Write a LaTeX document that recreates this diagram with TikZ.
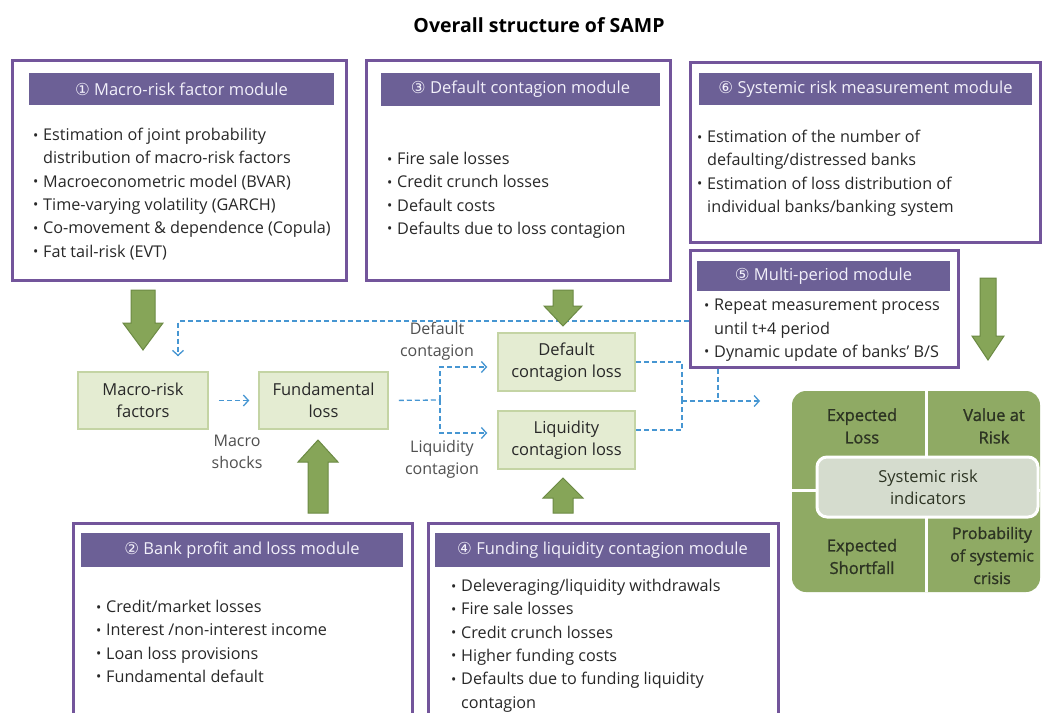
\documentclass[tikz,border=0pt]{standalone}
\usepackage{fontspec}
\setmainfont{Open Sans}
\newfontfamily\circfont{DejaVu Sans}
\newfontfamily\semifont[FakeBold=1.2]{Open Sans}
\usetikzlibrary{arrows.meta,calc}

\definecolor{modborder}{RGB}{115,85,155}
\definecolor{headfill}{RGB}{108,96,150}
\definecolor{headtext}{RGB}{242,240,250}
\definecolor{bodytext}{RGB}{40,40,40}
\definecolor{labeltext}{RGB}{80,80,80}
\definecolor{stagefill}{RGB}{228,236,210}
\definecolor{stageline}{RGB}{196,212,164}
\definecolor{flowblue}{RGB}{70,150,210}
\definecolor{greenfill}{RGB}{134,165,88}
\definecolor{greenline}{RGB}{108,138,68}
\definecolor{panelfill}{RGB}{143,170,100}
\definecolor{corefill}{RGB}{213,220,206}
\definecolor{paneltext}{RGB}{45,52,35}

\newcommand\bul{\makebox[10pt][l]{\raisebox{0.5pt}{\fontsize{14}{14}\selectfont •}}}
\newcommand\ind{\hspace*{10pt}}
% green block arrows: x, start, tip, shaft half-width, head half-width, head length
\newcommand\gdown[6]{\draw[garrow] (#1-#4,#2) -- (#1+#4,#2) -- (#1+#4,#3-#6) -- (#1+#5,#3-#6) -- (#1,#3) -- (#1-#5,#3-#6) -- (#1-#4,#3-#6) -- cycle;}
\newcommand\gup[6]{\draw[garrow] (#1-#4,#2) -- (#1+#4,#2) -- (#1+#4,#3+#6) -- (#1+#5,#3+#6) -- (#1,#3) -- (#1-#5,#3+#6) -- (#1-#4,#3+#6) -- cycle;}

\tikzset{
  module/.style={draw=modborder, line width=3pt, fill=white, inner sep=0pt},
  modhead/.style={fill=headfill, text=headtext, inner sep=0pt, font=\fontsize{16.5}{18}\selectfont},
  listtext/.style={anchor=north west, inner sep=0pt, align=left, text=bodytext, font=\fontsize{16.2}{23.3}\selectfont},
  stage/.style={fill=stagefill, draw=stageline, line width=1.5pt, text=bodytext, align=center, inner sep=0pt, font=\fontsize{16.5}{22}\selectfont},
  lbl/.style={text=labeltext, align=center, inner sep=0pt, font=\fontsize{16}{22}\selectfont},
  dline/.style={draw=flowblue, line width=1.3pt, dash pattern=on 5pt off 3pt},
  flow/.style={dline, -{Straight Barb[length=5pt,width=11pt,line width=1.3pt]}},
  garrow/.style={fill=greenfill, draw=greenline, line width=1pt},
  quad/.style={text=paneltext, align=center, inner sep=0pt, font=\semifont\fontsize{16.5}{22.5}\selectfont},
}

\begin{document}
\begin{tikzpicture}[x=1pt, y=-1pt]
\useasboundingbox (0,0) rectangle (1046,712);
\clip (0,0) rectangle (1046,712);
\fill[white] (0,0) rectangle (1046,712);

% title
\node[font=\bfseries\fontsize{19.5}{23}\selectfont, text=black] (title) at (539,25) {Overall structure of SAMP};

% module frames
\node[module, minimum width=334, minimum height=220] (box1) at (179,170) {};
\node[module, minimum width=304, minimum height=220] (box3) at (518,170) {};
\node[module, minimum width=350, minimum height=180] (box6) at (865,152) {};
\node[module, minimum width=268, minimum height=117] (box5) at (824,308.5) {};
\node[module, minimum width=339, minimum height=207] (box2) at (242.5,626.5) {};
\node[module, minimum width=350, minimum height=207] (box4) at (603,626.5) {};

% module headers
\node[modhead, minimum width=305, minimum height=32] (hdr1) at (181.5,89) {{\circfont ①} Macro-risk factor module};
\node[modhead, minimum width=279, minimum height=33] (hdr3) at (520.5,89.5) {{\circfont ③} Default contagion module};
\node[modhead, minimum width=333, minimum height=32] (hdr6) at (865.5,89) {{\circfont ⑥} Systemic risk measurement module};
\node[modhead, minimum width=253, minimum height=30] (hdr5) at (823.5,276) {{\circfont ⑤} Multi-period module};
\node[modhead, minimum width=322, minimum height=34] (hdr2) at (242,550) {{\circfont ②} Bank profit and loss module};
\node[modhead, minimum width=335, minimum height=34] (hdr4) at (602.5,550) {{\circfont ④} Funding liquidity contagion module};

% module contents
\node[listtext] (list1) at (33,128) {\bul Estimation of joint probability\\ \ind distribution of macro-risk factors\\ \bul Macroeconometric model (BVAR)\\ \bul Time-varying volatility (GARCH)\\ \bul Co-movement \& dependence (Copula)\\ \bul Fat tail-risk (EVT)};
\node[listtext] (list3) at (387,152) {\bul Fire sale losses\\ \bul Credit crunch losses\\ \bul Default costs\\ \bul Defaults due to loss contagion};
\node[listtext] (list6) at (697,130) {\bul Estimation of the number of\\ \ind defaulting/distressed banks\\ \bul Estimation of loss distribution of\\ \ind individual banks/banking system};
\node[listtext] (list5) at (704,299) {\bul Repeat measurement process\\ \ind until t+4 period\\ \bul Dynamic update of banks’ B/S};
\node[listtext] (list2) at (96,600) {\bul Credit/market losses\\ \bul Interest /non-interest income\\ \bul Loan loss provisions\\ \bul Fundamental default};
\node[listtext] (list4) at (451,579) {\bul Deleveraging/liquidity withdrawals\\ \bul Fire sale losses\\ \bul Credit crunch losses\\ \bul Higher funding costs\\ \bul Defaults due to funding liquidity\\ \ind contagion};

% loss stages
\node[stage, minimum width=130, minimum height=57] (mrf) at (143,400.5) {Macro-risk\\factors};
\node[stage, minimum width=129, minimum height=57] (fund) at (323.5,400.5) {Fundamental\\loss};
\node[stage, minimum width=137, minimum height=58] (dcl) at (566.5,362) {Default\\contagion loss};
\node[stage, minimum width=137, minimum height=58] (lcl) at (566.5,440) {Liquidity\\contagion loss};

% flow labels
\node[lbl] (ldef) at (437,341) {Default\\contagion};
\node[lbl] (lmac) at (237,452) {Macro\\shocks};
\node[lbl] (lliq) at (442,459) {Liquidity\\contagion};

% dashed flows
\coordinate (fbrow) at (0,321);
\coordinate (jl) at (440,400);
\coordinate (jr) at (682,401);
\coordinate (jm) at (718,401);
\coordinate (outpt) at (760,401);
\draw[flow, shorten >=15pt] (box5.west |- fbrow) -| ([xshift=35pt]mrf.north);
\draw[flow, shorten <=10pt, shorten >=9pt] (mrf) -- (fund);
\draw[dline, shorten <=10pt] (fund.east) -- (jl);
\draw[flow, shorten >=10pt] (jl) |- ([yshift=-5pt]dcl.west);
\draw[flow, shorten >=10pt] (jl) |- ([yshift=7pt]lcl.west);
\draw[dline] (dcl.east) -| (jr);
\draw[dline] ([yshift=10pt]lcl.east) -| (jr);
\draw[dline] (box5.south -| jm) -- (jm);
\draw[flow] (jr) -- (outpt);

% green block arrows
\gdown{143}{290}{350}{12}{20}{27}
\gdown{563}{290}{326}{10}{19}{20}
\gdown{988}{278}{360}{8}{16}{24}
\gup{318}{513}{440}{10}{20}{22}
\gup{563}{513}{478}{10}{20}{20}

% systemic risk indicator panel
\node[fill=panelfill, rounded corners=14pt, minimum width=248, minimum height=201, inner sep=0pt] (panel) at (916,491.5) {};
\draw[white, line width=3pt] (926,391) -- (926,592);
\draw[white, line width=3pt] (792,490) -- (1040,490);
\node[fill=corefill, draw=white, line width=3pt, rounded corners=10pt, minimum width=221, minimum height=60, inner sep=0pt] (core) at (927.5,487) {};
\node[quad] (qel) at (862,426) {Expected\\Loss};
\node[quad] (qvar) at (994,426) {Value at\\Risk};
\node[quad] (qes) at (862,556.5) {Expected\\Shortfall};
\node[quad, font=\semifont\fontsize{16}{22.5}\selectfont] (qpc) at (992,555.5) {Probability\\of systemic\\crisis};
\node[text=paneltext, align=center, inner sep=0pt, font=\fontsize{16.5}{22}\selectfont] (coretext) at (928,487) {Systemic risk\\indicators};
\end{tikzpicture}
\end{document}
